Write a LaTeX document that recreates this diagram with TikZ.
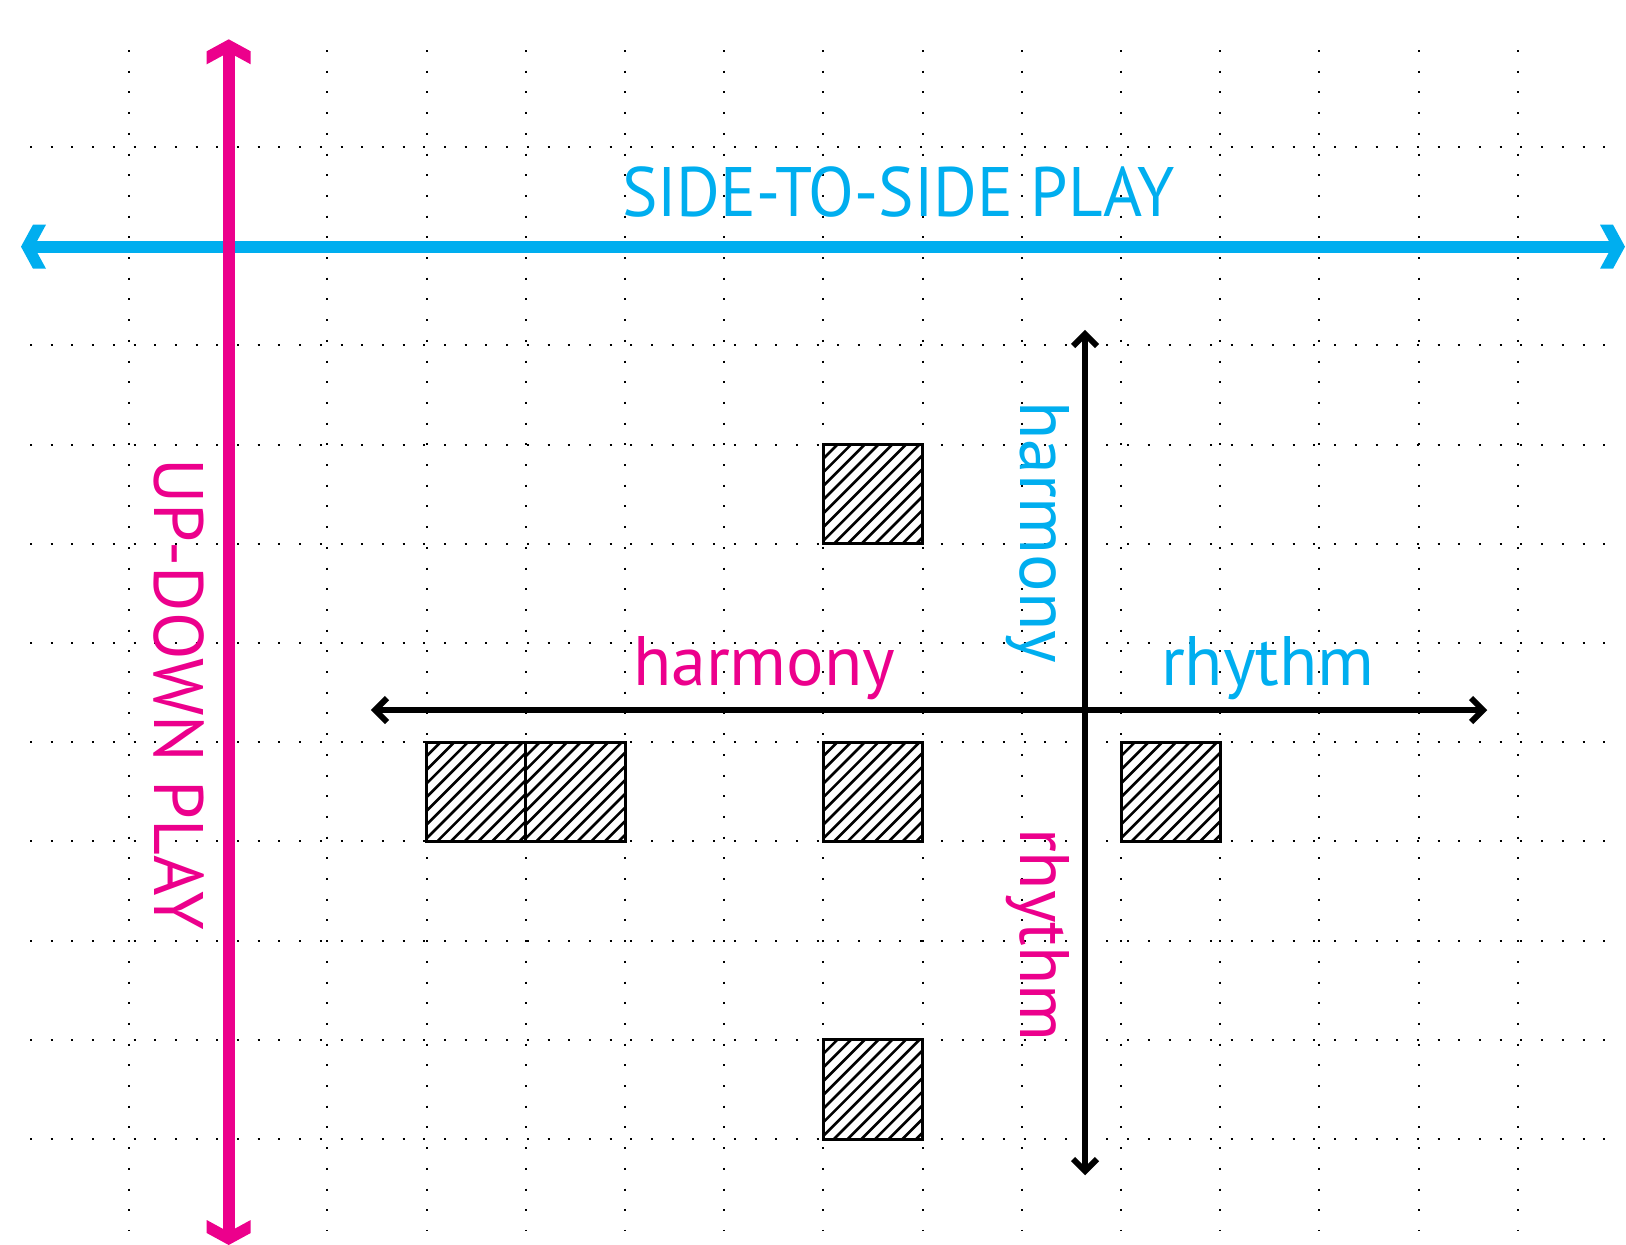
\documentclass[tikz,border=0pt]{standalone}
\usepackage{fontspec}
\usepackage{graphicx}
\setmainfont{PT Sans}
\definecolor{cyanP}{HTML}{00AEEF}
\definecolor{magP}{HTML}{EC008C}
\tikzset{
  griddots/.style={line width=2pt, dash pattern=on 2pt off 18.7pt, black},
  blueaxis/.style={line width=12pt, cyanP},
  magaxis/.style={line width=12pt, magP},
  blackaxis/.style={line width=6pt, black},
  blackhead/.style={line width=6pt, black, line join=miter, miter limit=10},
  bigtext/.style={inner sep=0pt, outer sep=0pt, font=\fontsize{70}{84}\selectfont},
  cell/.style={line width=3pt, black, fill=white},
  hatch/.style={line width=2.6pt, black}
}
\newcommand{\hatchcell}[3]{% name, x0, y0 (top-left)
  \node[cell, minimum width=99.2pt, minimum height=99.2pt, inner sep=0pt, anchor=north west] (#1) at (#2,#3) {};
  \begin{scope}
    \clip (#2,#3) rectangle ++(99.2,99.2);
    \foreach \d in {-99,-85.3,...,100} {
      \draw[hatch] (#2+\d,#3+99.2) -- ++(99.2,-99.2);
    }
  \end{scope}
  \draw[line width=3pt] (#2,#3) rectangle ++(99.2,99.2);
}
\begin{document}
\begin{tikzpicture}[x=1pt, y=-1pt]
\useasboundingbox (0,0) rectangle (1626,1245);
% grid
\foreach \k in {0,...,14} {
  \draw[griddots] (129+99.2*\k,50) -- ++(0,1180);
}
\foreach \k in {0,...,10} {
  \draw[griddots] (30,147+99.2*\k) -- (1610,147+99.2*\k);
}
% hatched cells
\hatchcell{c1}{426.6}{742.2}
\hatchcell{c2}{525.8}{742.2}
\hatchcell{c3}{823.4}{742.2}
\hatchcell{c4}{1121}{742.2}
\hatchcell{c5}{823.4}{444.6}
\hatchcell{c6}{823.4}{1039.8}
% black axes
\coordinate (hl) at (375,710);
\coordinate (hr) at (1483,710);
\coordinate (vt) at (1085,334);
\coordinate (vb) at (1085,1171);
\draw[blackaxis] (hl) -- (hr);
\draw[blackaxis] (vt) -- (vb);
\draw[blackhead] (hl) ++(12,-12) -- (hl) -- ++(12,12);
\draw[blackhead] (hr) ++(-12,-12) -- (hr) -- ++(-12,12);
\draw[blackhead] (vt) ++(-12,12) -- (vt) -- ++(12,12);
\draw[blackhead] (vb) ++(-12,-12) -- (vb) -- ++(12,-12);
% blue axis
\coordinate (bl) at (21,246.7);
\coordinate (br) at (1625,246.7);
\coordinate (bli) at (34,246.7);
\coordinate (bri) at (1612,246.7);
\draw[blueaxis] (bli) -- (bri);
\fill[cyanP] (bl) -- ++(12,-22) -- ++(13,0) -- ++(-12,22) -- ++(12,22) -- ++(-13,0) -- cycle;
\fill[cyanP] (br) -- ++(-12,-22) -- ++(-13,0) -- ++(12,22) -- ++(-12,22) -- ++(13,0) -- cycle;
% magenta axis
\coordinate (mt) at (228.7,39.3);
\coordinate (mb) at (228.7,1245);
\coordinate (mti) at (228.7,52.3);
\coordinate (mbi) at (228.7,1232);
\draw[magaxis] (mti) -- (mbi);
\fill[magP] (mt) -- ++(22,12) -- ++(0,13) -- ++(-22,-12) -- ++(-22,12) -- ++(0,-13) -- cycle;
\fill[magP] (mb) -- ++(22,-12) -- ++(0,-13) -- ++(-22,12) -- ++(-22,-12) -- ++(0,13) -- cycle;
% labels
\node[bigtext, text=cyanP, anchor=base west] (side) at (622,216) {\scalebox{0.955}[1]{SIDE-TO-SIDE PLAY}};
\node[bigtext, text=magP, anchor=base west, rotate=-90] (updown) at (154,458) {\scalebox{0.99}[1]{UP-DOWN PLAY}};
\node[bigtext, text=magP, anchor=base west] (harmh) at (633,685) {harmony};
\node[bigtext, text=cyanP, anchor=base west] (rhyh) at (1161,685) {rhythm};
\node[bigtext, text=cyanP, anchor=base west, rotate=-90] (harmv) at (1020,401) {harmony};
\node[bigtext, text=magP, anchor=base west, rotate=-90] (rhyv) at (1020,828) {rhythm};
\end{tikzpicture}
\end{document}
